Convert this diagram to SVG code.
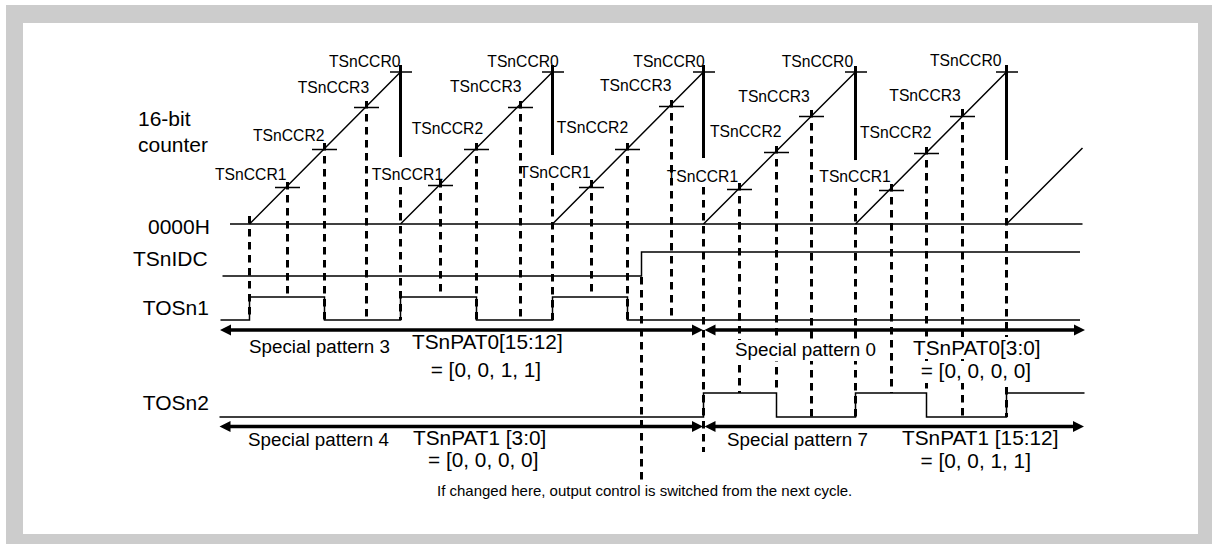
<svg xmlns="http://www.w3.org/2000/svg" width="1212" height="544" viewBox="0 0 1212 544">
<style>
text{font-family:"Liberation Sans",Arial,Helvetica,sans-serif;fill:#000}
.ccr{font-size:15.7px}
.sig{font-size:21px}
.pat{font-size:18.8px}
.reg{font-size:20.8px}
.note{font-size:15px}
.w{stroke:#000;stroke-width:1.5;fill:none}
.tk{stroke:#000;stroke-width:1.4;fill:none}
.d{stroke:#000;stroke-width:3;stroke-dasharray:7.5 5.5;fill:none}
.s{stroke:#000;stroke-width:3;fill:none}
.ar{stroke:#000;stroke-width:3.4;fill:none}
.ah{fill:#000}
.bg{fill:#fff}
</style>
<rect x="6" y="5" width="1206" height="539" fill="#cccccc"/>
<rect x="23" y="23" width="1175" height="511" fill="#ffffff"/>

<g id="labels-left">
<text class="sig" x="138" y="125.5">16-bit</text>
<text class="sig" x="138" y="151.7">counter</text>
<text class="sig" x="148" y="234">0000H</text>
<text class="sig" x="133" y="265.7">TSnIDC</text>
<text class="sig" x="142.7" y="315">TOSn1</text>
<text class="sig" x="142.7" y="410">TOSn2</text>
</g>

<g id="waveforms">
<path class="w" d="M230,224 H1082.5"/>
<path class="w" d="M249.5,224 L400.5,72 M400.5,224 L552.5,72 M552.5,224 L703.5,72 M703.5,224 L855.5,72 M855.5,224 L1006.5,72 M1006.5,224 L1082.5,148"/>
<path class="w" d="M222.5,276 H641.5 V252 H1080"/>
<path class="w" d="M220.5,320 H249.5 V297 H324.5 V320 H400.5 V297 H476.5 V320 H552.5 V297 H627.5 V320 H1080"/>
<path class="w" d="M219.5,417 H703.5 V393 H776.5 V417 H855.5 V393 H926.5 V417 H1006.5 V393 H1084.5"/>
</g>

<g id="ticks">
<path class="tk" d="M275,187.5 H300 M312,149.5 H337 M354,107.5 H379 M390,72 H412"/>
<path class="tk" d="M428,185.5 H453 M464,149.5 H489 M508,107.5 H533 M542,72 H564"/>
<path class="tk" d="M579,187.5 H604 M615,149.5 H640 M659,106.5 H684 M693,72 H715"/>
<path class="tk" d="M727,189.5 H752 M764,152.5 H789 M799,116.5 H824 M845,72 H867"/>
<path class="tk" d="M879,190.5 H904 M914,153.5 H939 M950,116.5 H975 M996,72 H1018"/>
</g>

<g id="connectors">
<path class="d" d="M249.5,216 V320 M287.5,182 V297 M324.5,143 V320 M366.5,101 V320"/>
<path class="s" d="M400.5,65 V157 M552.5,65 V155 M703.5,65 V158 M855.5,66 V160 M1006.5,65 V160"/>
<path class="d" d="M400.5,187 V320 M440.5,180 V297 M476.5,143 V320 M520.5,101 V320 M552.5,183 V320"/>
<path class="d" d="M591.5,180 V297 M627.5,143 V320 M671.5,100 V320 M703.5,187 V452"/>
<path class="d" d="M739.5,183 V393 M776.5,146 V393 M811.5,110 V417 M855.5,188 V417"/>
<path class="d" d="M891.5,184 V393 M926.5,147 V393 M962.5,109 V417 M1006.5,166 V417"/>
<path class="d" d="M641.5,277 V484"/>
<path class="ar" d="M228,330 H695 M712,330 H1077"/>
<path class="ah" d="M220,330 L231,324.5 L231,335.5 Z M703,330 L692,324.5 L692,335.5 Z M704.5,330 L715.5,324.5 L715.5,335.5 Z M1085,330 L1074,324.5 L1074,335.5 Z"/>
<path class="ar" d="M228,426.5 H695 M712,426.5 H1076"/>
<path class="ah" d="M219.5,426.5 L230.5,421 L230.5,432 Z M703,426.5 L692,421 L692,432 Z M704.5,426.5 L715.5,421 L715.5,432 Z M1084,426.5 L1073,421 L1073,432 Z"/>
</g>

<g id="ccr-labels">
<text class="ccr" x="329" y="66.7">TSnCCR0</text>
<text class="ccr" x="297.7" y="92.5">TSnCCR3</text>
<text class="ccr" x="253" y="140.5">TSnCCR2</text>
<text class="ccr" x="215" y="179.5">TSnCCR1</text>
<text class="ccr" x="487.3" y="66.7">TSnCCR0</text>
<text class="ccr" x="450" y="92">TSnCCR3</text>
<text class="ccr" x="411.7" y="134">TSnCCR2</text>
<text class="ccr" x="371.7" y="179.5">TSnCCR1</text>
<text class="ccr" x="633.3" y="66.7">TSnCCR0</text>
<text class="ccr" x="600" y="90.5">TSnCCR3</text>
<text class="ccr" x="556.7" y="133">TSnCCR2</text>
<text class="ccr" x="519.3" y="178">TSnCCR1</text>
<text class="ccr" x="781.7" y="66.7">TSnCCR0</text>
<text class="ccr" x="738.3" y="101.5">TSnCCR3</text>
<text class="ccr" x="710" y="137">TSnCCR2</text>
<text class="ccr" x="666.7" y="181.5">TSnCCR1</text>
<text class="ccr" x="930" y="65.7">TSnCCR0</text>
<text class="ccr" x="889.3" y="101">TSnCCR3</text>
<text class="ccr" x="860" y="138">TSnCCR2</text>
<text class="ccr" x="819.3" y="182">TSnCCR1</text>
</g>

<g id="pattern-labels">
<rect class="bg" x="733" y="340" width="146" height="21"/>
<rect class="bg" x="911" y="337" width="130" height="22"/>
<rect class="bg" x="918" y="361" width="120" height="22"/>
<text class="pat" x="249" y="353.3">Special pattern 3</text>
<text class="reg" x="412" y="348.5">TSnPAT0[15:12]</text>
<text class="reg" x="430.7" y="376.5">= [0, 0, 1, 1]</text>
<text class="pat" x="735" y="356">Special pattern 0</text>
<text class="reg" x="913" y="355">TSnPAT0[3:0]</text>
<text class="reg" x="920.7" y="378.3">= [0, 0, 0, 0]</text>
<text class="pat" x="248" y="446">Special pattern 4</text>
<text class="reg" x="413" y="445">TSnPAT1 [3:0]</text>
<text class="reg" x="428" y="467">= [0, 0, 0, 0]</text>
<text class="pat" x="727" y="446">Special pattern 7</text>
<text class="reg" x="902" y="445">TSnPAT1 [15:12]</text>
<text class="reg" x="920.5" y="468">= [0, 0, 1, 1]</text>
<text class="note" x="437" y="496">If changed here, output control is switched from the next cycle.</text>
</g>
</svg>
